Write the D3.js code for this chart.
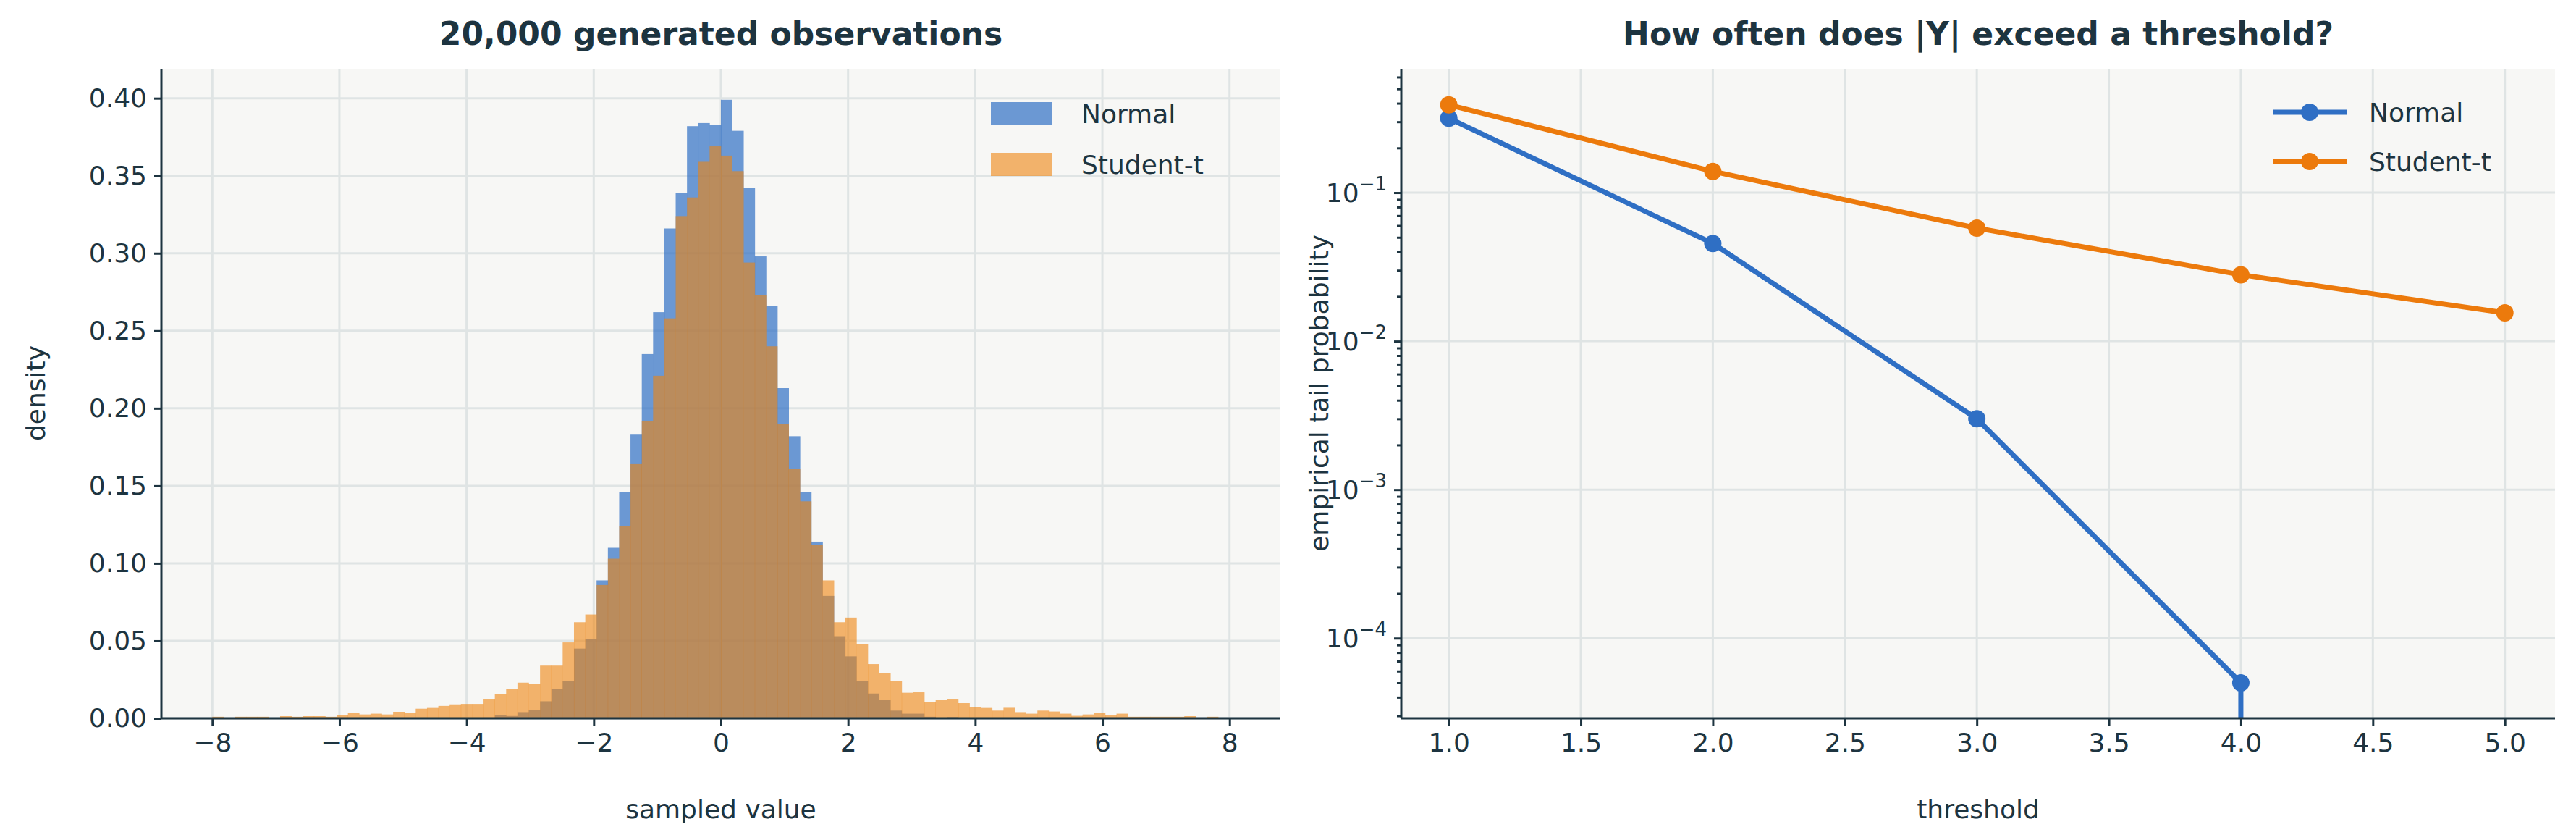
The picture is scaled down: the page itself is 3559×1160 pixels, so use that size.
<!DOCTYPE html>
<html><head><meta charset="utf-8">
<script src="https://cdn.jsdelivr.net/npm/d3@7"></script>
<style>body{margin:0;background:#fff}text{font-family:"DejaVu Sans",sans-serif;fill:#1d3440}</style>
</head><body><svg id="c" width="3559" height="1160"></svg>
<script>
const binStart=-8, binWidth=16/90;
const normalDensity=[0,0,0,0,0,0,0,0,0,0,0,0,0,0,0,0,0,0,0,0,0,0,0,0,0.0005,0.002,0.0015,0.004,0.0056,0.011,0.019,0.024,0.045,0.051,0.089,0.110,0.146,0.183,0.235,0.262,0.316,0.339,0.382,0.384,0.383,0.399,0.379,0.342,0.298,0.266,0.213,0.182,0.146,0.114,0.079,0.053,0.040,0.024,0.016,0.012,0.005,0.003,0.003,0.001,0,0.0008,0,0,0,0,0,0,0,0,0,0,0,0,0,0,0,0,0,0,0,0,0,0,0,0];
const studentDensity=[0.001,0,0.001,0.001,0.001,0,0.0014,0.001,0.0014,0.0014,0.001,0.0023,0.0033,0.0025,0.003,0.0025,0.0042,0.0037,0.0062,0.0067,0.008,0.009,0.0093,0.0093,0.0126,0.0156,0.019,0.023,0.022,0.034,0.034,0.049,0.062,0.067,0.086,0.103,0.124,0.164,0.192,0.221,0.258,0.324,0.336,0.359,0.369,0.363,0.353,0.294,0.273,0.240,0.190,0.161,0.140,0.112,0.089,0.062,0.065,0.048,0.035,0.029,0.024,0.0165,0.0168,0.0103,0.012,0.0126,0.0098,0.0072,0.0067,0.005,0.0068,0.004,0.003,0.005,0.0044,0.003,0.0016,0.0025,0.0037,0.002,0.003,0.001,0.001,0.001,0.001,0.001,0.0014,0,0.001,0];
const yTicksLeft=[0,0.05,0.1,0.15,0.2,0.25,0.3,0.35,0.4];
const xTicksLeft=[-8,-6,-4,-2,0,2,4,6,8];
const thresholds=[1,2,3,4,5];
const normalTail=[0.317,0.0455,0.003,0.00005,0];
const studentTail=[0.39,0.139,0.0577,0.028,0.0155];
const xTicksRight=[1,1.5,2,2.5,3,3.5,4,4.5,5];
const seriesNames=["Normal","Student-t"];
const blue="#2f6fc4", orange="#ee840f", lineOrange="#ec7a0c";

const svg=d3.select("#c");
const dark="#1d3440", grid="#dfe4e4", bg="#f7f7f5";
const T=0, B=992, Tp=95;

function frame(x0,x1){
  svg.append("rect").attr("x",x0).attr("y",Tp).attr("width",x1-x0).attr("height",B-Tp).attr("fill",bg);
}
// LEFT
const L0=223,L1=1769;
frame(L0,L1);
const x=d3.scaleLinear().domain([-8.8,8.8]).range([L0,L1]);
const y=d3.scaleLinear().domain([0,0.419]).range([B,Tp]);
const gl=svg.append("g");
xTicksLeft.forEach(t=>gl.append("line").attr("x1",x(t)).attr("x2",x(t)).attr("y1",Tp).attr("y2",B).attr("stroke",grid).attr("stroke-width",3));
yTicksLeft.forEach(t=>gl.append("line").attr("x1",L0).attr("x2",L1).attr("y1",y(t)).attr("y2",y(t)).attr("stroke",grid).attr("stroke-width",3));
function bars(data,col,op){
  svg.append("g").selectAll("rect").data(data).join("rect")
   .attr("x",(d,i)=>x(binStart+i*binWidth)).attr("width",(d,i)=>x(binStart+(i+1)*binWidth)-x(binStart+i*binWidth)+0.3)
   .attr("y",d=>y(d)).attr("height",d=>B-y(d)).attr("fill",col).attr("fill-opacity",op);
}
bars(normalDensity,blue,0.7);
bars(studentDensity,orange,0.6);
const ax1=svg.append("g").attr("transform",`translate(0,${B})`).call(d3.axisBottom(x).tickValues(xTicksLeft).tickFormat(d=>d<0?"−"+(-d):d).tickSize(10).tickPadding(10));
const ay1=svg.append("g").attr("transform",`translate(${L0},0)`).call(d3.axisLeft(y).tickValues(yTicksLeft).tickFormat(d3.format(".2f")).tickSize(10).tickPadding(10));
[ax1,ay1].forEach(a=>{a.selectAll("text").style("font-size","36px").attr("fill",dark);a.selectAll("line").attr("stroke",dark).attr("stroke-width",3);a.select(".domain").attr("stroke",dark).attr("stroke-width",3);});
ax1.select(".domain").attr("d",`M${L0},0H${L1}`);
ay1.select(".domain").attr("d",`M0,${Tp}V${B}`);
svg.append("text").attr("x",(L0+L1)/2).attr("y",62).attr("text-anchor","middle").style("font-size","44px").style("font-weight","bold").text("20,000 generated observations");
svg.append("text").attr("x",(L0+L1)/2).attr("y",1130).attr("text-anchor","middle").style("font-size","36px").text("sampled value");
svg.append("text").attr("transform","translate(62,543) rotate(-90)").attr("text-anchor","middle").style("font-size","36px").text("density");
[[blue,0.7],[orange,0.6]].forEach((c,i)=>{
  svg.append("rect").attr("x",1369).attr("y",141+i*70).attr("width",84).attr("height",32).attr("fill",c[0]).attr("fill-opacity",c[1]);
  svg.append("text").attr("x",1494).attr("y",170+i*70).style("font-size","36px").text(seriesNames[i]);
});

// RIGHT
const R0=1936,R1=3530;
frame(R0,R1);
const xr=d3.scaleLinear().domain([0.82,5.19]).range([R0,R1]);
const yr=d3.scaleLog().domain([Math.pow(10,-4.54),Math.pow(10,-0.166)]).range([B,Tp]);
const majors=[1e-1,1e-2,1e-3,1e-4];
xTicksRight.forEach(t=>svg.append("line").attr("x1",xr(t)).attr("x2",xr(t)).attr("y1",Tp).attr("y2",B).attr("stroke",grid).attr("stroke-width",3));
majors.forEach(t=>svg.append("line").attr("x1",R0).attr("x2",R1).attr("y1",yr(t)).attr("y2",yr(t)).attr("stroke",grid).attr("stroke-width",3));
svg.append("defs").append("clipPath").attr("id","cr").append("rect").attr("x",R0).attr("y",Tp).attr("width",R1-R0).attr("height",B-Tp);
const line=d3.line().x(d=>xr(d[0])).y(d=>d[1]>0?yr(d[1]):B+50);
[[normalTail,blue],[studentTail,lineOrange]].forEach(([vals,col])=>{
  const pts=thresholds.map((t,i)=>[t,vals[i]]);
  const shown=[];
  for(let i=0;i<pts.length;i++){ if(pts[i][1]>0) shown.push(pts[i]); else { shown.push([pts[i-1][0],0]); break; } }
  svg.append("path").attr("clip-path","url(#cr)").attr("d",line(shown)).attr("fill","none").attr("stroke",col).attr("stroke-width",7);
  svg.append("g").selectAll("circle").data(pts.filter(p=>p[1]>0)).join("circle").attr("cx",d=>xr(d[0])).attr("cy",d=>yr(d[1])).attr("r",12).attr("fill",col);
});
const ax2=svg.append("g").attr("transform",`translate(0,${B})`).call(d3.axisBottom(xr).tickValues(xTicksRight).tickFormat(d3.format(".1f")).tickSize(10).tickPadding(10));
const minors=[];
for(let e=-5;e<0;e++)for(let m=2;m<10;m++){const v=m*Math.pow(10,e);if(v>yr.domain()[0]&&v<yr.domain()[1])minors.push(v);}
const ay2m=svg.append("g").attr("transform",`translate(${R0},0)`).call(d3.axisLeft(yr).tickValues(minors).tickFormat("").tickSize(6));
const ay2=svg.append("g").attr("transform",`translate(${R0},0)`).call(d3.axisLeft(yr).tickValues(majors).tickFormat("").tickSize(10));
[ax2,ay2,ay2m].forEach(a=>{a.selectAll("text").style("font-size","36px").attr("fill",dark);a.selectAll("line").attr("stroke",dark).attr("stroke-width",3);a.select(".domain").attr("stroke",dark).attr("stroke-width",3);});
ax2.select(".domain").attr("d",`M${R0},0H${R1}`);
ay2.select(".domain").attr("d",`M0,${Tp}V${B}`);
ay2m.select(".domain").remove();
majors.forEach(t=>{
  const tx=svg.append("text").attr("x",R0-20).attr("y",yr(t)+13).attr("text-anchor","end").style("font-size","36px");
  tx.append("tspan").text("10");
  tx.append("tspan").attr("dy",-16).style("font-size","26px").text("−"+Math.round(-Math.log10(t)));
});
svg.append("text").attr("x",(R0+R1)/2).attr("y",62).attr("text-anchor","middle").style("font-size","44px").style("font-weight","bold").text("How often does |Y| exceed a threshold?");
svg.append("text").attr("x",(R0+R1)/2).attr("y",1130).attr("text-anchor","middle").style("font-size","36px").text("threshold");
svg.append("text").attr("transform","translate(1835,543) rotate(-90)").attr("text-anchor","middle").style("font-size","36px").text("empirical tail probability");
[blue,lineOrange].forEach((c,i)=>{
  const yy=155+i*68;
  svg.append("line").attr("x1",3140).attr("x2",3242).attr("y1",yy).attr("y2",yy).attr("stroke",c).attr("stroke-width",7);
  svg.append("circle").attr("cx",3191).attr("cy",yy).attr("r",12).attr("fill",c);
  svg.append("text").attr("x",3273).attr("y",yy+13).style("font-size","36px").text(seriesNames[i]);
});
</script></body></html>
